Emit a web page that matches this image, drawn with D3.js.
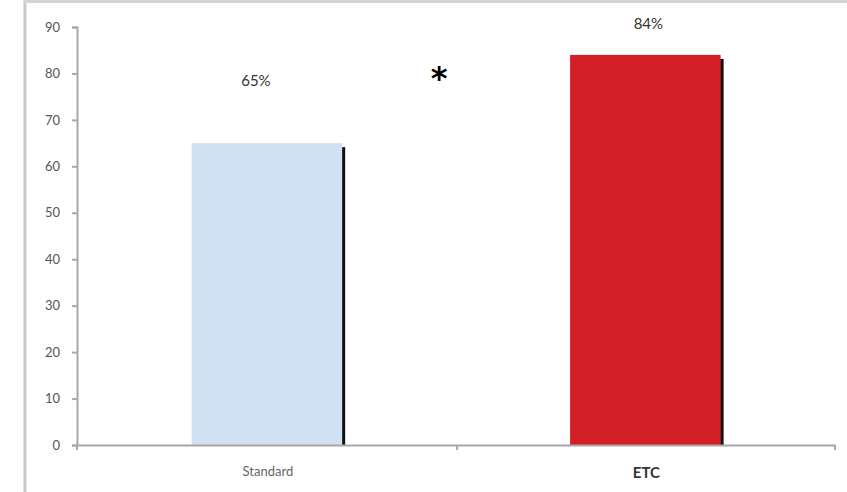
<!DOCTYPE html>
<html>
<head>
<meta charset="utf-8">
<script src="https://cdn.jsdelivr.net/npm/d3@7"></script>
<style>
  body { margin: 0; background: #fff; }
  svg { display: block; font-family: Lato, "Open Sans", sans-serif; }
</style>
</head>
<body>
<svg id="chart" width="847" height="492"></svg>
<script>
// data
const categories = ["Standard", "ETC"];
const values = [65, 84];
const valueLabels = ["65%", "84%"];
const yTicks = [0, 10, 20, 30, 40, 50, 60, 70, 80, 90];

const svg = d3.select("#chart");
const m = {left: 77, right: 12, top: 27, bottom: 47};
const W = 847, H = 492;

// outer frame (gray left + top edges)
svg.append("line").attr("x1", 25).attr("x2", 25).attr("y1", 0).attr("y2", H)
    .attr("stroke", "#c8c8c8").attr("stroke-width", 3);
svg.append("line").attr("x1", 24).attr("x2", W).attr("y1", 1.5).attr("y2", 1.5)
    .attr("stroke", "#d4d4d4").attr("stroke-width", 3);

const x = d3.scaleBand().domain(categories).range([m.left, W - m.right])
    .paddingInner(0.597).paddingOuter(0.3).align(0.505);
const y = d3.scaleLinear().domain([0, 90]).range([H - m.bottom, m.top]);

// bar shadows
svg.selectAll(".shadow").data(values).enter().append("rect")
    .attr("x", (d, i) => x(categories[i]) + x.bandwidth() - 2.5)
    .attr("y", d => y(d) + 4)
    .attr("width", 3.5)
    .attr("height", d => y(0) - y(d) - 4)
    .attr("fill", "#111");

const colors = ["#cfe1f2", "#d21f26"];
svg.selectAll(".bar").data(values).enter().append("rect")
    .attr("x", (d, i) => x(categories[i]))
    .attr("y", d => y(d))
    .attr("width", x.bandwidth() - 2)
    .attr("height", d => y(0) - y(d))
    .attr("fill", (d, i) => colors[i]);

// y axis
const yAxis = svg.append("g").attr("transform", `translate(${m.left},0)`)
    .call(d3.axisLeft(y).tickValues(yTicks).tickSize(5).tickPadding(12));
yAxis.select(".domain").attr("stroke", "#a8a8a8").attr("stroke-width", 2);
yAxis.selectAll(".tick line").attr("stroke", "#a8a8a8").attr("stroke-width", 2);
yAxis.selectAll(".tick text").attr("fill", "#555").attr("font-size", 13)
    .attr("font-family", "Lato, sans-serif");

// x axis
const xAxis = svg.append("g").attr("transform", `translate(0,${y(0)})`)
    .call(d3.axisBottom(x).tickSize(0).tickPadding(22));
xAxis.select(".domain").attr("stroke", "#a8a8a8").attr("stroke-width", 2);
xAxis.selectAll(".tick text")
    .attr("font-family", "Lato, sans-serif")
    .attr("fill", (d, i) => i ? "#333" : "#666")
    .attr("font-size", (d, i) => i ? 15 : 13)
    .attr("font-weight", (d, i) => i ? "bold" : "normal");
// x tick marks at band edges
const mid = (x(categories[0]) + x.bandwidth() + x(categories[1])) / 2;
const edges = [m.left, mid, W - m.right];
svg.selectAll(".xtick").data(edges).enter().append("line")
    .attr("x1", d => d).attr("x2", d => d)
    .attr("y1", y(0)).attr("y2", y(0) + 5)
    .attr("stroke", "#a8a8a8").attr("stroke-width", 2);

// value labels
const labelY = [y(78.5), y(90.6)];
svg.selectAll(".vlabel").data(valueLabels).enter().append("text")
    .attr("x", (d, i) => x(categories[i]) + x.bandwidth() / 2 - (i ? -2 : 12))
    .attr("y", (d, i) => labelY[i])
    .attr("dy", "0.35em")
    .attr("text-anchor", "middle")
    .attr("font-size", 15)
    .attr("fill", "#333")
    .text(d => d);

// significance marker
svg.append("text")
    .attr("x", mid - 18)
    .attr("y", y(81.5))
    .attr("dy", "0.7em")
    .attr("text-anchor", "middle")
    .attr("font-size", 32)
    .attr("font-weight", "bold")
    .attr("font-family", "DejaVu Sans, sans-serif")
    .attr("fill", "#000")
    .text("*");
</script>
</body>
</html>
